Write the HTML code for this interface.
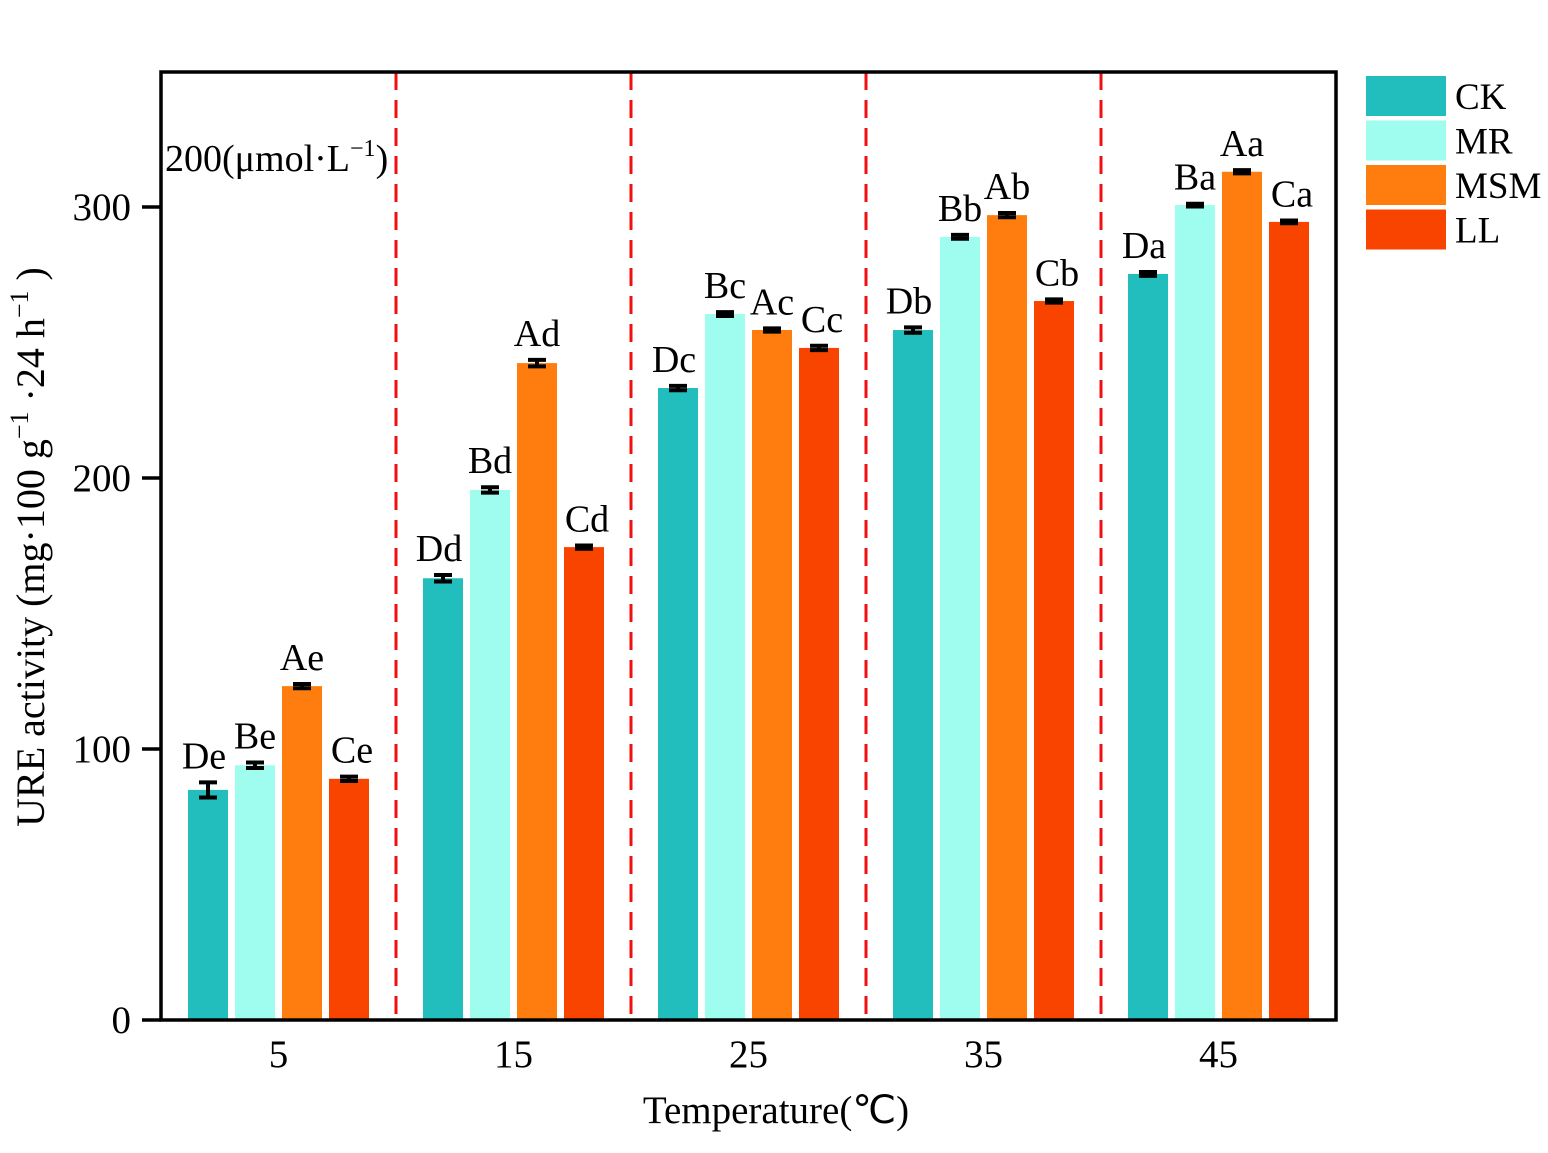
<!DOCTYPE html>
<html><head><meta charset="utf-8"><style>
html,body{margin:0;padding:0;background:#fff;}
svg{display:block;font-family:"Liberation Serif",serif;}
</style></head><body>
<svg id="chart" width="1548" height="1153" viewBox="0 0 1548 1153" xmlns="http://www.w3.org/2000/svg">
<g id="bars"></g>
<g id="errs"></g>
<g id="sig"></g>
<g id="dividers"></g>
<rect x="161" y="72" width="1175" height="948" fill="none" stroke="#000" stroke-width="3.5"/>
<g id="yaxis"></g>
<g id="xaxis"></g>
<text x="165" y="171" font-size="38">200(μmol·L<tspan dy="-15" font-size="24">−1</tspan><tspan dy="15">)</tspan></text>
<text transform="translate(44,547) rotate(-90)" text-anchor="middle" font-size="40">URE activity (mg·100 g<tspan dy="-16" font-size="26">−1</tspan><tspan dy="16"> ·24 h</tspan><tspan dy="-16" font-size="26">−1</tspan><tspan dy="16"> )</tspan></text>
<text x="776" y="1123" text-anchor="middle" font-size="39">Temperature(℃)</text>
<g id="legend"></g>
</svg>
<script>
const categories = ["5","15","25","35","45"];
const seriesNames = ["CK","MR","MSM","LL"];
const ckValues = [84.9,163,233.2,254.6,275.3];
const mrValues = [94,195.6,260.5,289,300.7];
const msmValues = [123.2,242.4,254.6,297,313];
const llValues = [89,174.5,248,265.3,294.5];
const ckErr = [2.8,1.2,0.8,1.0,0.7];
const mrErr = [1.0,1.0,0.7,0.7,0.5];
const msmErr = [0.8,1.2,0.6,0.8,0.6];
const llErr = [0.8,0.6,0.8,0.6,0.5];
const ckLabels = ["De","Dd","Dc","Db","Da"];
const mrLabels = ["Be","Bd","Bc","Bb","Ba"];
const msmLabels = ["Ae","Ad","Ac","Ab","Aa"];
const llLabels = ["Ce","Cd","Cc","Cb","Ca"];
const yTicks = [0,100,200,300];
const colors = ["#22BDBD","#9EFDEE","#FF7D0E","#F94400"];

const NS="http://www.w3.org/2000/svg";
const x0=161,x1=1336,yBase=1020,pxPer=2.71;
const band=(x1-x0)/categories.length;
const y=v=>yBase-v*pxPer;
const xc=i=>x0+band*(i+0.5);
const barW=40,step=47;
const labelDx=[-4,0,0,3];
function mk(tag,attrs,parent){const e=document.createElementNS(NS,tag);for(const k in attrs)e.setAttribute(k,attrs[k]);parent.appendChild(e);return e;}
const vals=[ckValues,mrValues,msmValues,llValues];
const errs=[ckErr,mrErr,msmErr,llErr];
const labs=[ckLabels,mrLabels,msmLabels,llLabels];
const gB=document.getElementById('bars'),gE=document.getElementById('errs'),gS=document.getElementById('sig');
categories.forEach((c,i)=>{
  vals.forEach((arr,s)=>{
    const cx=xc(i)+(s-1.5)*step;
    const r=mk('rect',{x:cx-barW/2,y:y(arr[i]),width:barW,height:yBase-y(arr[i]),fill:colors[s]},gB);
    
    
    const e=errs[s][i],top=y(arr[i]+e),bot=y(arr[i]-e);
    const g=mk('g',{stroke:'#000','stroke-width':4},gE);
    
    
    mk('line',{x1:cx,x2:cx,y1:top,y2:bot},g);
    mk('line',{x1:cx-9,x2:cx+9,y1:top,y2:top},g);
    mk('line',{x1:cx-9,x2:cx+9,y1:bot,y2:bot},g);
    const t=mk('text',{x:cx+labelDx[s],y:top-14,'text-anchor':'middle','font-size':38},gS);
    t.textContent=labs[s][i];
    
    
  });
});
const gD=document.getElementById('dividers');
for(let i=1;i<categories.length;i++){
  const xx=x0+band*i;
  const l=mk('line',{x1:xx,x2:xx,y1:72,y2:1020,stroke:'#F01010','stroke-width':3,'stroke-dasharray':'18,10'},gD);
  
  
}
const gY=document.getElementById('yaxis');
yTicks.forEach(v=>{
  mk('line',{x1:142,x2:161,y1:y(v),y2:y(v),stroke:'#000','stroke-width':3.5},gY);
  const t=mk('text',{x:131,y:y(v)+13,'text-anchor':'end','font-size':39},gY);
  t.textContent=v;
  
  
});
const gX=document.getElementById('xaxis');
categories.forEach((c,i)=>{
  const t=mk('text',{x:xc(i),y:1067,'text-anchor':'middle','font-size':39},gX);
  t.textContent=c;
  
  
});
const gL=document.getElementById('legend');
seriesNames.forEach((n,s)=>{
  const g=mk('g',{},gL);
  
  
  const yy=76+s*44.5;
  mk('rect',{x:1366,y:yy,width:80,height:40,fill:colors[s]},g);
  const t=mk('text',{x:1455,y:yy+33,'font-size':37},g);
  t.textContent=n;
});
</script>
</body></html>
